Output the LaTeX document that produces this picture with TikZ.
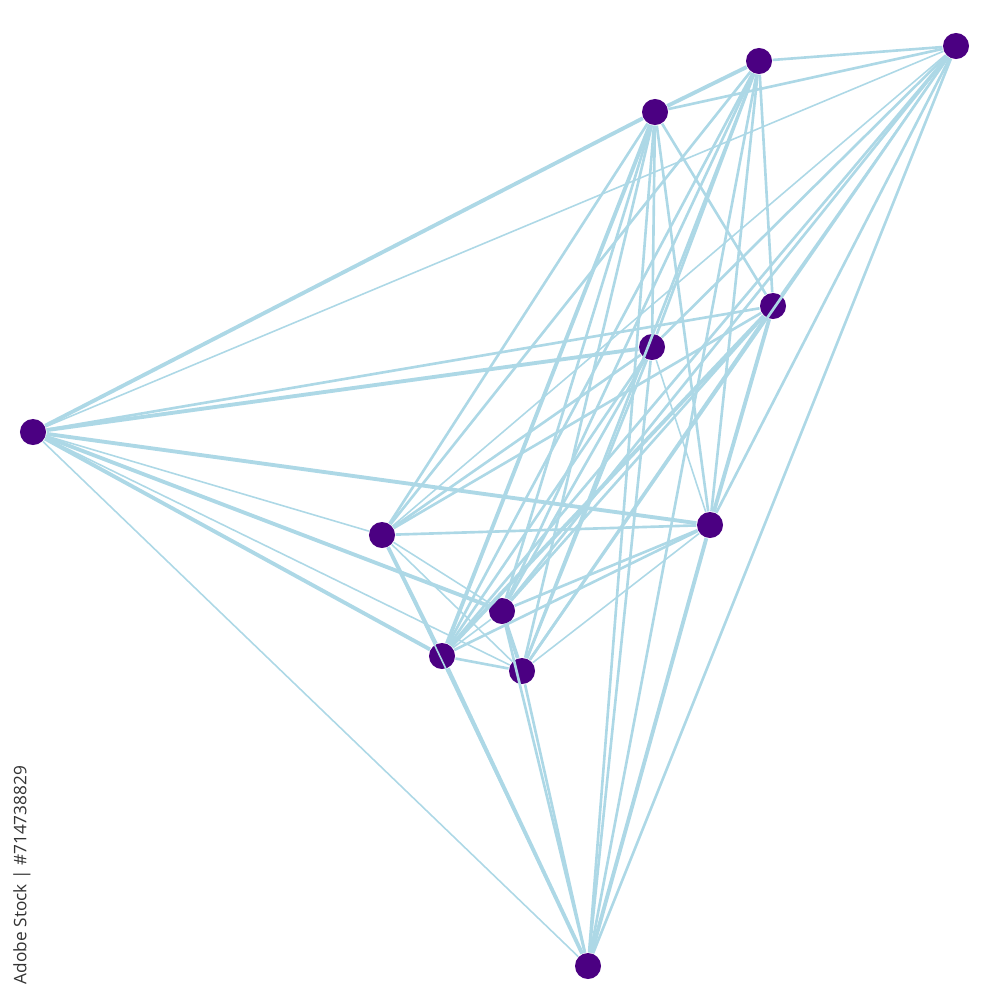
\documentclass[tikz,border=0pt]{standalone}
\usepackage{fontspec}
\setsansfont{Open Sans}
\definecolor{dot}{HTML}{4B0082}
\definecolor{link}{HTML}{ADD8E6}
\begin{document}
\begin{tikzpicture}[x = 0.01cm, y = -0.01cm,
  vertex/.style = {circle, fill = dot, inner sep = 0pt, minimum size = 0.26cm},
  wide/.style = {link, line width = 1.1pt},
  mid/.style = {link, line width = 0.75pt},
  fine/.style = {link, line width = 0.45pt}]
\useasboundingbox (0,0) rectangle (1000,1000);
\node[vertex] at (956,46) (a) {};
\node[vertex] at (759,61) (b) {};
\node[vertex] at (655,112) (c) {};
\node[vertex] at (773,306) (d) {};
\node[vertex] at (652,347) (e) {};
\node[vertex] at (33,432) (f) {};
\node[vertex] at (710,525) (g) {};
\node[vertex] at (382,535) (h) {};
\node[vertex] at (502,611) (i) {};
\node[vertex] at (442,656) (j) {};
\node[vertex] at (522,671) (k) {};
\node[vertex] at (588,966) (l) {};
\draw[wide] (b) -- (c);
\draw[wide] (f) -- (c);
\draw[wide] (f) -- (g);
\draw[wide] (f) -- (i);
\draw[wide] (f) -- (j);
\draw[wide] (f) -- (e);
\draw[wide] (h) -- (j);
\draw[wide] (j) -- (l);
\draw[wide] (d) -- (g);
\draw[wide] (g) -- (l);
\draw[wide] (i) -- (k);
\draw[wide] (d) -- (j);
\draw[wide] (c) -- (j);
\draw[mid] (a) -- (b);
\draw[mid] (a) -- (c);
\draw[mid] (a) -- (e);
\draw[mid] (a) -- (g);
\draw[mid] (a) -- (i);
\draw[mid] (a) -- (j);
\draw[mid] (a) -- (k);
\draw[mid] (a) -- (l);
\draw[mid] (f) -- (d);
\draw[mid] (b) -- (d);
\draw[mid] (b) -- (e);
\draw[mid] (b) -- (g);
\draw[mid] (b) -- (h);
\draw[mid] (b) -- (i);
\draw[mid] (b) -- (j);
\draw[mid] (b) -- (k);
\draw[mid] (b) -- (l);
\draw[mid] (c) -- (d);
\draw[mid] (c) -- (e);
\draw[mid] (c) -- (g);
\draw[mid] (c) -- (h);
\draw[mid] (c) -- (i);
\draw[mid] (c) -- (k);
\draw[mid] (c) -- (l);
\draw[mid] (d) -- (h);
\draw[mid] (d) -- (i);
\draw[mid] (d) -- (k);
\draw[mid] (e) -- (h);
\draw[mid] (e) -- (i);
\draw[mid] (e) -- (j);
\draw[mid] (e) -- (k);
\draw[mid] (e) -- (l);
\draw[mid] (g) -- (h);
\draw[mid] (g) -- (i);
\draw[mid] (g) -- (j);
\draw[mid] (j) -- (k);
\draw[mid] (k) -- (l);
\draw[mid] (i) -- (l);
\draw[fine] (f) -- (a);
\draw[fine] (f) -- (h);
\draw[fine] (f) -- (k);
\draw[fine] (f) -- (l);
\draw[fine] (a) -- (h);
\draw[fine] (a) -- (d);
\draw[fine] (h) -- (k);
\draw[fine] (h) -- (i);
\draw[fine] (h) -- (l);
\draw[fine] (g) -- (k);
\draw[fine] (e) -- (g);
\draw[fine] (i) -- (j);
\node[rotate = 90, text = black!80, font = \sffamily\fontsize{4.9}{6}\selectfont] at (22,875) (stamp) {Adobe Stock | \#714738829};
\end{tikzpicture}
\end{document}
